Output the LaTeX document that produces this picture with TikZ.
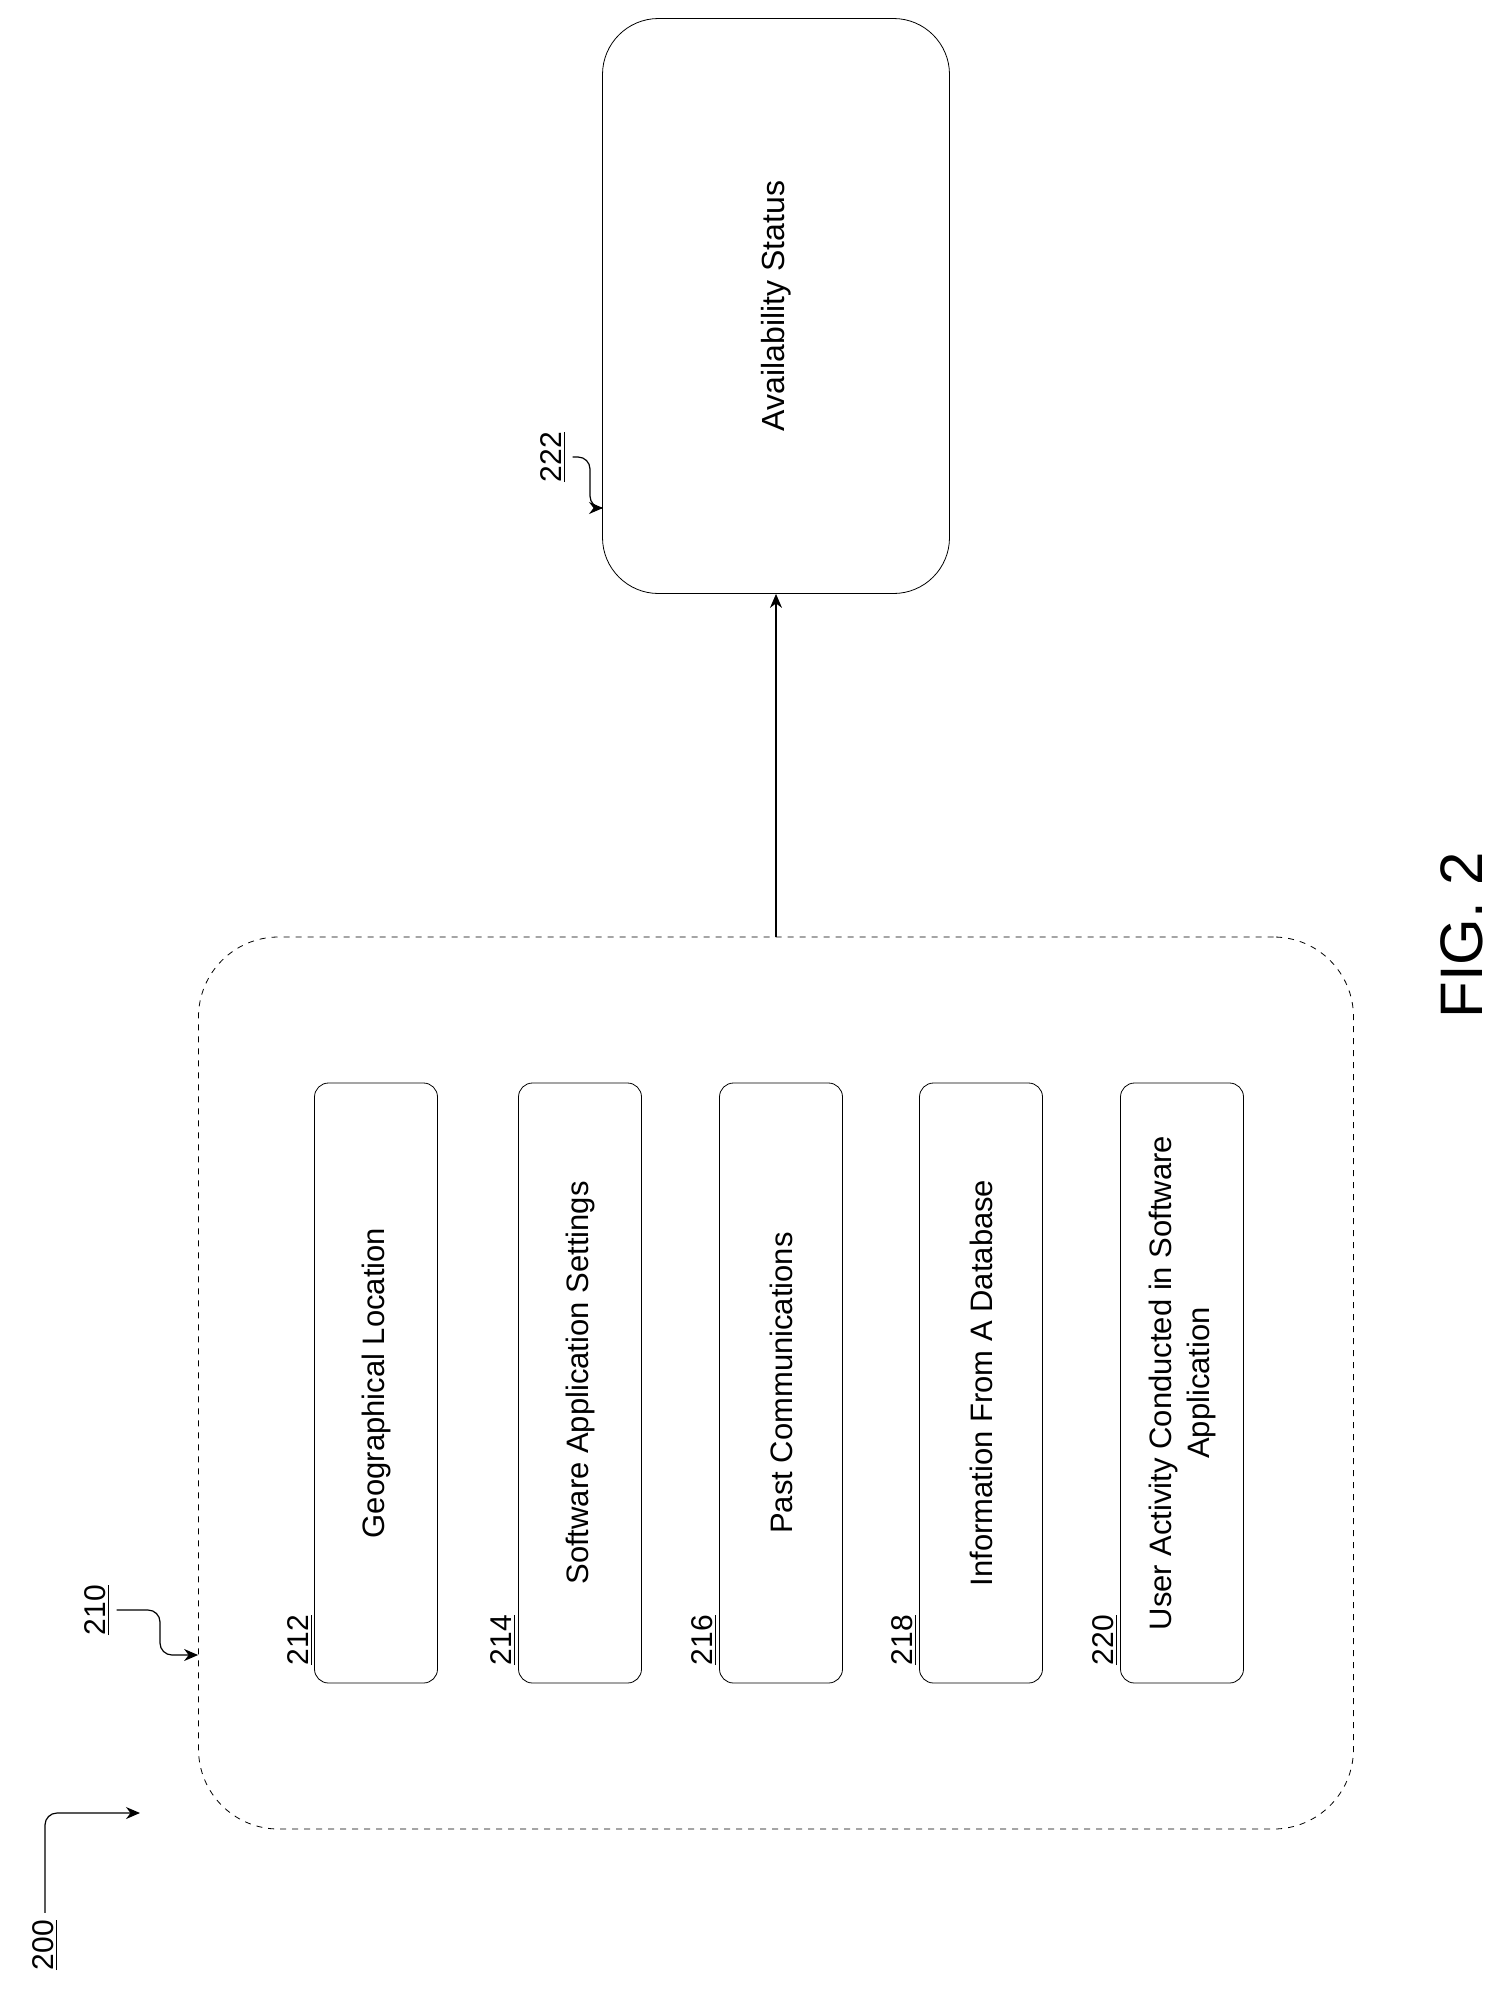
\documentclass[tikz,border=0pt]{standalone}
\usepackage{fontspec}
\setmainfont{Liberation Sans}
\usetikzlibrary{arrows.meta, positioning}
\newcommand{\refnum}[1]{\underline{#1}}

\begin{document}
\begin{tikzpicture}[x=0.5pt, y=-0.5pt,
        item/.style={rectangle, draw, rounded corners=7pt, rotate=90, minimum width=300pt, minimum height=61.5pt, align=center, font=\fontsize{15.5}{19}\selectfont},
        group/.style={rectangle, draw, dashed, rounded corners=40pt, minimum width=577.5pt, minimum height=446pt},
        tag/.style={rotate=90, font=\fontsize{15}{17}\selectfont},
        arrow/.style={-{Stealth[length=7pt, width=6pt]}, semithick},
        leader/.style={-{Stealth[length=7pt, width=6pt]}, semithick, rounded corners=6pt}
    ]
        \useasboundingbox (0,0) rectangle (1511,1999);

        \node[group] (ctx) at (776,1383) {};
        \node[item] (geo) at (376,1383) {Geographical Location};
        \node[item] (settings) at (580,1383) {Software Application Settings};
        \node[item] (past) at (781,1383) {Past Communications};
        \node[item] (db) at (981,1383) {Information From A Database};
        \node[item] (activity) at (1182,1383) {User Activity Conducted in Software\\Application};
        \node[item, minimum width=287.5pt, minimum height=173.5pt, rounded corners=28pt, font=\fontsize{16}{19}\selectfont] (status) at (776,306) {Availability Status};

        % reference numerals
        \node[tag] (n212) at (300,1640) {\refnum{212}};
        \node[tag] (n214) at (503,1640) {\refnum{214}};
        \node[tag] (n216) at (704,1640) {\refnum{216}};
        \node[tag] (n218) at (904,1640) {\refnum{218}};
        \node[tag] (n220) at (1105,1640) {\refnum{220}};
        \node[tag] (n210) at (97,1610) {\refnum{210}};
        \node[tag] (n222) at (553,457) {\refnum{222}};
        \node[tag] (n200) at (45,1945) {\refnum{200}};
        \node[rotate=90, font=\fontsize{30}{34}\selectfont] (fig) at (1462,935) {FIG. 2};

        \coordinate (e210) at (ctx.west |- 0,1655);
        \coordinate (e222) at (603,508);
        \coordinate (e200) at (140,1813);

        \draw[arrow] (ctx.north) -- (ctx.north |- status.west);
        \draw[leader] (n210.south) -| (160,1655) -- (e210);
        \draw[leader] (n222.south) -| (590,508) -- (e222);
        \draw[leader] (n200.east) |- (e200);
\end{tikzpicture}
\end{document}
